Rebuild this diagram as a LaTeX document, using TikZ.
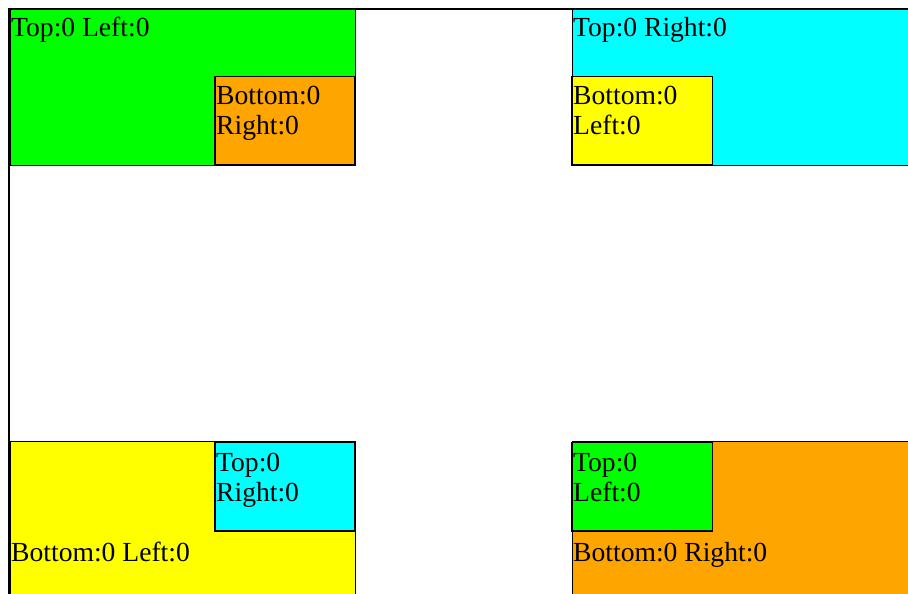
\documentclass[tikz,border=0pt]{standalone}
\usepackage{fontspec}
\setmainfont{Liberation Serif}
\begin{document}
\begin{tikzpicture}[x=1pt,y=-1pt]

%styles
\tikzset{
    boite/.style={draw=black, line width=1pt},
    petite/.style={draw=black, line width=1.5pt},
    texte/.style={anchor=base west, inner sep=0pt, font=\fontsize{27.6}{31}\selectfont}
}

\clip (0,0) rectangle (908,594);
\fill[white] (0,0) rectangle (908,594);

%conteneur
\draw[line width=2pt] (9,600) -- (9,9) -- (920,9);

%haut gauche
\draw[boite, fill={rgb,255:red,0;green,255;blue,0}] (10,10) rectangle (355,165);
\draw[petite, fill={rgb,255:red,255;green,165;blue,0}] (215,76.5) rectangle (355,165);
\node[texte] (hgA) at (11,37) {Top:0 Left:0};
\node[texte] (hgB) at (216,104) {Bottom:0};
\node[texte] (hgC) at (216,134) {Right:0};

%haut droite
\draw[boite, fill={rgb,255:red,0;green,255;blue,255}] (572,10) rectangle (917,165);
\draw[petite, fill={rgb,255:red,255;green,255;blue,0}] (572,76.5) rectangle (712.5,165);
\node[texte] (hdA) at (573,37) {Top:0 Right:0};
\node[texte] (hdB) at (573,104) {Bottom:0};
\node[texte] (hdC) at (573,134) {Left:0};

%bas gauche
\draw[boite, fill={rgb,255:red,255;green,255;blue,0}] (10,441.5) rectangle (355,597);
\draw[petite, fill={rgb,255:red,0;green,255;blue,255}] (215,442.5) rectangle (355,531);
\node[texte] (bgA) at (216,471) {Top:0};
\node[texte] (bgB) at (216,501) {Right:0};
\node[texte] (bgC) at (11,561) {Bottom:0 Left:0};

%bas droite
\draw[boite, fill={rgb,255:red,255;green,165;blue,0}] (572,441.5) rectangle (917,597);
\draw[petite, fill={rgb,255:red,0;green,255;blue,0}] (572,442.5) rectangle (712.5,531);
\node[texte] (bdA) at (573,471) {Top:0};
\node[texte] (bdB) at (573,501) {Left:0};
\node[texte] (bdC) at (573,561) {Bottom:0 Right:0};

\end{tikzpicture}
\end{document}
